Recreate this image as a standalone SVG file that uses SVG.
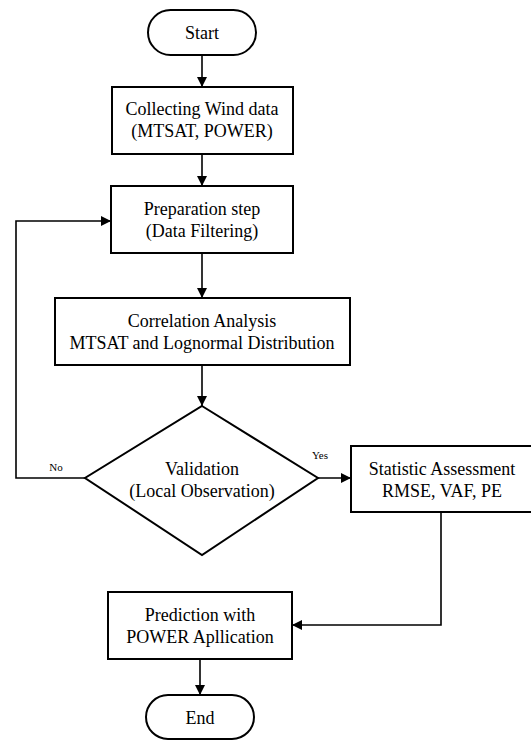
<svg xmlns="http://www.w3.org/2000/svg" width="531" height="740" viewBox="0 0 531 740">
<style>
.n{fill:#fff;stroke:#000;stroke-width:2}
.t{font-family:"Liberation Serif","Times New Roman",serif;font-size:18px;fill:#000;text-anchor:middle}
.s{font-family:"Liberation Serif","Times New Roman",serif;font-size:11px;fill:#000;text-anchor:middle}
.c{fill:none;stroke:#000;stroke-width:1.6}
</style>
<defs>
<marker id="ah" markerWidth="10" markerHeight="10" refX="10" refY="5" orient="auto" markerUnits="userSpaceOnUse">
<path d="M0,0 L10,5 L0,10 Z" fill="#000"/>
</marker>
</defs>
<rect width="531" height="740" fill="#fff"/>
<g id="connectors">
<line class="c" x1="202" y1="55" x2="202" y2="87" marker-end="url(#ah)"/>
<line class="c" x1="202" y1="154" x2="202" y2="186" marker-end="url(#ah)"/>
<line class="c" x1="202" y1="253" x2="202" y2="298" marker-end="url(#ah)"/>
<line class="c" x1="202" y1="365" x2="202" y2="406" marker-end="url(#ah)"/>
<polyline class="c" points="85,478 16,478 16,221 111,221" marker-end="url(#ah)"/>
<line class="c" x1="318" y1="478" x2="351" y2="478" marker-end="url(#ah)"/>
<polyline class="c" points="441,512 441,625 292,625" marker-end="url(#ah)"/>
<line class="c" x1="200" y1="659" x2="200" y2="695" marker-end="url(#ah)"/>
<text class="s" x="56" y="471">No</text>
<text class="s" x="320" y="459">Yes</text>
</g>
<g id="start">
<rect class="n" x="148" y="10" width="108" height="45" rx="22.5"/>
<text class="t" x="202" y="39">Start</text>
</g>
<g id="collecting">
<rect class="n" x="112" y="87" width="181" height="67"/>
<text class="t" x="202" y="115">Collecting Wind data</text>
<text class="t" x="202" y="137">(MTSAT, POWER)</text>
</g>
<g id="preparation">
<rect class="n" x="111" y="186" width="182" height="67"/>
<text class="t" x="202" y="215">Preparation step</text>
<text class="t" x="202" y="237">(Data Filtering)</text>
</g>
<g id="correlation">
<rect class="n" x="55" y="298" width="295" height="67"/>
<text class="t" x="202" y="327">Correlation Analysis</text>
<text class="t" x="202" y="349">MTSAT and Lognormal Distribution</text>
</g>
<g id="validation">
<polygon class="n" points="202,406 318,478 202,555 85,478"/>
<text class="t" x="202" y="475">Validation</text>
<text class="t" x="202" y="497">(Local Observation)</text>
</g>
<g id="statistic">
<rect class="n" x="351" y="446" width="181" height="66"/>
<text class="t" x="442" y="475">Statistic Assessment</text>
<text class="t" x="442" y="497">RMSE, VAF, PE</text>
</g>
<g id="prediction">
<rect class="n" x="108" y="592" width="184" height="67"/>
<text class="t" x="200" y="621">Prediction with</text>
<text class="t" x="200" y="643">POWER Apllication</text>
</g>
<g id="end">
<rect class="n" x="146" y="695" width="108" height="44" rx="22"/>
<text class="t" x="200" y="724">End</text>
</g>
</svg>
